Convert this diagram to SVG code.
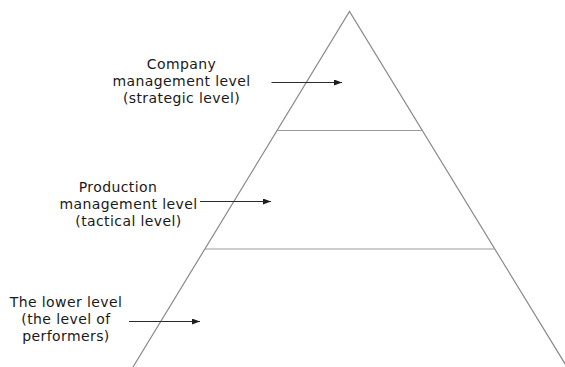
<svg xmlns="http://www.w3.org/2000/svg" width="565" height="367" viewBox="0 0 565 367">
  <style>
    .edge { fill: none; stroke: #8a8a8a; stroke-width: 1.2; }
    .divider { fill: none; stroke: #9a9a9a; stroke-width: 1.2; }
    .arrow { fill: none; stroke: #2a2a2a; stroke-width: 1; }
    .label { font-family: "DejaVu Sans", "Liberation Sans", sans-serif; font-size: 14px; fill: #1a1a1a; text-anchor: middle; letter-spacing: 0.4px; }
  </style>
  <defs>
    <marker id="head" viewBox="0 0 8 6" refX="8" refY="3" markerWidth="8" markerHeight="6" markerUnits="userSpaceOnUse" orient="auto">
      <path d="M0,0 L8,3 L0,6 Z" fill="#1e1e1e"/>
    </marker>
  </defs>
  <rect width="565" height="367" fill="#ffffff"/>

  <!-- pyramid outline and level dividers -->
  <g id="pyramid">
    <polyline class="edge" points="133,367 349.5,11.5 567,367"/>
    <line class="divider" x1="277" y1="130.5" x2="422" y2="130.5"/>
    <line class="divider" x1="204.5" y1="249" x2="495" y2="249"/>
  </g>

  <!-- level labels -->
  <g id="level-strategic">
    <text class="label" x="181.5" y="68.5">Company</text>
    <text class="label" x="181.5" y="85.5">management level</text>
    <text class="label" x="181.5" y="102.5">(strategic level)</text>
  </g>
  <g id="level-tactical">
    <text class="label" x="118" y="191.5">Production</text>
    <text class="label" x="128.5" y="208.5">management level</text>
    <text class="label" x="128.5" y="225.5">(tactical level)</text>
  </g>
  <g id="level-performers">
    <text class="label" x="66" y="307">The lower level</text>
    <text class="label" x="66" y="324">(the level of</text>
    <text class="label" x="66" y="341">performers)</text>
  </g>

  <!-- pointers into the pyramid -->
  <g id="connectors">
    <line class="arrow" x1="271.5" y1="82.5" x2="342" y2="82.5" marker-end="url(#head)"/>
    <line class="arrow" x1="200" y1="201.5" x2="271" y2="201.5" marker-end="url(#head)"/>
    <line class="arrow" x1="129" y1="321.5" x2="200" y2="321.5" marker-end="url(#head)"/>
  </g>
</svg>
